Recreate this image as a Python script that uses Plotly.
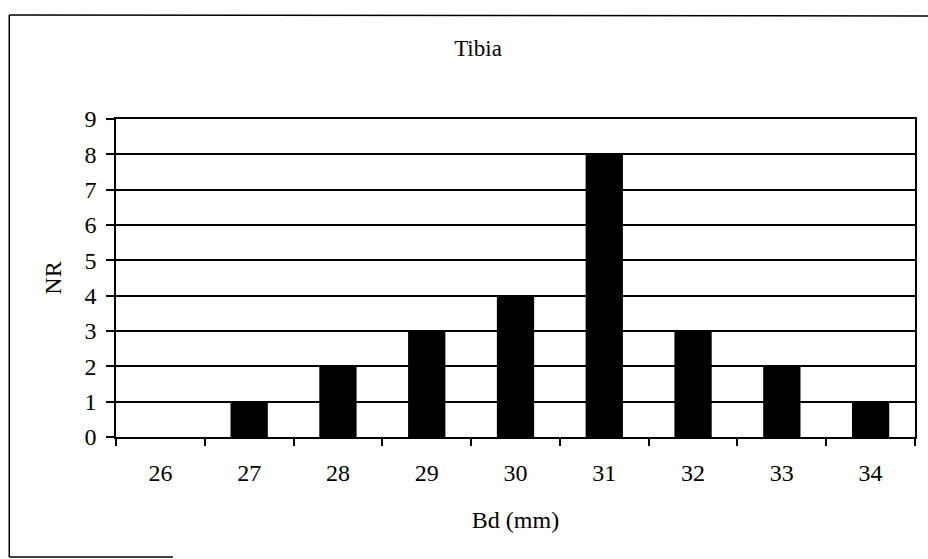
import plotly.graph_objects as go

# Tibia breadth distribution
bd_mm = ["26", "27", "28", "29", "30", "31", "32", "33", "34"]
nr_counts = [0, 1, 2, 3, 4, 8, 3, 2, 1]
y_ticks = list(range(0, 10))

W, H = 928, 559
L, R, T, B = 116, 917, 119, 437
FONT = "Times New Roman, Liberation Serif, serif"
FS = 24


def px_x(px):
    return (px - L) / (R - L)


def px_y(py):
    return (B - py) / (B - T)


fig = go.Figure(
    go.Bar(
        x=bd_mm,
        y=nr_counts,
        marker=dict(color="black", line=dict(width=0)),
        width=0.42,
    )
)

fig.update_layout(
    width=W,
    height=H,
    margin=dict(l=L, r=W - R, t=T, b=H - B, pad=0),
    paper_bgcolor="white",
    plot_bgcolor="white",
    showlegend=False,
    font=dict(family=FONT, size=FS, color="black"),
    title=dict(
        text="Tibia",
        x=478 / W,
        xanchor="center",
        y=1 - 48 / H,
        yanchor="middle",
        font=dict(family=FONT, size=23, color="black"),
    ),
)

fig.update_xaxes(
    type="category",
    showline=True,
    linecolor="black",
    linewidth=1.5,
    mirror=True,
    ticks="outside",
    tickson="boundaries",
    ticklen=7,
    tickwidth=1.5,
    tickcolor="black",
    ticklabelstandoff=13,
    showgrid=False,
    tickfont=dict(family=FONT, size=FS, color="black"),
    title=dict(text="Bd (mm)", standoff=27,
               font=dict(family=FONT, size=FS, color="black")),
)

fig.update_yaxes(
    range=[0, 9],
    tickvals=y_ticks,
    showline=True,
    linecolor="black",
    linewidth=1.5,
    mirror=True,
    ticks="outside",
    ticklen=8,
    tickwidth=1.5,
    tickcolor="black",
    ticklabelstandoff=5,
    showgrid=True,
    gridcolor="black",
    gridwidth=1.5,
    zeroline=False,
    tickfont=dict(family=FONT, size=FS, color="black"),
    title=dict(text="NR", standoff=16,
               font=dict(family=FONT, size=FS, color="black")),
)

# outer chart frame (left, top and part of the bottom edge)
frame = dict(type="line", xref="paper", yref="paper",
             line=dict(color="black", width=1.5), layer="above")
fig.add_shape(**frame, x0=px_x(9), x1=px_x(940), y0=px_y(15), y1=px_y(16))
fig.add_shape(**frame, x0=px_x(9), x1=px_x(9), y0=px_y(15), y1=px_y(557))
fig.add_shape(**frame, x0=px_x(9), x1=px_x(173), y0=px_y(557), y1=px_y(557))

fig.write_html("out.html")
